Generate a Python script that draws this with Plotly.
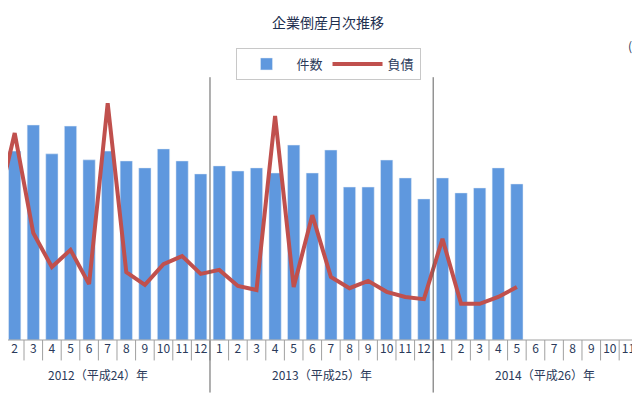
import plotly.graph_objects as go

# 36 monthly slots, Jan 2012 .. Dec 2014 (data through May 2014)
months = [str(m) for m in range(1, 13)] * 3
years = ["2012（平成24）年", "2013（平成25）年", "2014（平成26）年"]

# 件数 (monthly bankruptcies)
counts = [995, 1035, 1178, 1020, 1172, 987, 1035, 981, 943, 1047, 981, 910,
          954, 926, 943, 915, 1068, 915, 1041, 838, 838, 986, 888, 773,
          888, 806, 833, 943, 855]
# 負債 (億円)
debt = [3480, 5670, 2930, 2000, 2470, 1530, 6490, 1860, 1510, 2080, 2300, 1810,
        1920, 1480, 1370, 6140, 1450, 3420, 1730, 1420, 1620, 1320, 1180, 1120,
        2770, 990, 990, 1180, 1450]

x_bar = list(range(len(counts)))
x_line = list(range(len(debt)))

fig = go.Figure()
fig.add_trace(go.Bar(x=x_bar, y=counts, name="件数", marker_color="#5f98de",
                     width=0.66))
fig.add_trace(go.Scatter(x=x_line, y=debt, name="負債", yaxis="y2", mode="lines",
                         line=dict(color="#c0504d", width=4)))

shapes = []
# month tick separators below the axis
for i in range(-1, 36):
    shapes.append(dict(type="line", xref="x", yref="paper", x0=i + 0.5, x1=i + 0.5,
                       y0=0, y1=-0.07, line=dict(color="#a0a0a0", width=1)))
# year separators
for xs in [11.5, 23.5]:
    shapes.append(dict(type="line", xref="x", yref="paper", x0=xs, x1=xs,
                       y0=0.9, y1=-0.18, line=dict(color="#606060", width=1)))
shapes.append(dict(type="line", xref="paper", yref="paper", x0=0, x1=1, y0=0, y1=0,
                   line=dict(color="#a0a0a0", width=1)))

annotations = [dict(x=5.5 + 12 * k, y=-0.155, xref="x", yref="paper", text=t,
                    showarrow=False, font=dict(size=12, color="#2a3a5a"))
               for k, t in enumerate(years)]
annotations.append(dict(x=0.965, y=1.045, xref="paper", yref="paper", text="(億円)",
                        xanchor="left", yanchor="top", showarrow=False,
                        font=dict(size=12, color="#2a3a5a")))

fig.update_layout(
    width=640, height=400,
    margin=dict(l=0, r=0, t=40, b=68),
    paper_bgcolor="white", plot_bgcolor="white",
    font=dict(family="Noto Sans CJK JP", color="#2a3a5a"),
    title=dict(text="企業倒産月次推移", x=0.5, y=0.975, font=dict(size=14, color="#1f3050")),
    xaxis=dict(range=[0.64, 35.05], tickmode="array", tickvals=list(range(36)),
               ticktext=months, tickfont=dict(size=12, color="#2a3a5a"),
               showgrid=False, zeroline=False, ticks="", showline=False),
    yaxis=dict(range=[0, 1600], showticklabels=False, showgrid=False, zeroline=False),
    yaxis2=dict(range=[0, 8000], overlaying="y", side="right", showticklabels=False,
                showgrid=False, zeroline=False),
    legend=dict(orientation="h", x=0.5, xanchor="center", y=1.0, yanchor="top",
                bgcolor="white", bordercolor="#c8c8c8", borderwidth=1,
                itemwidth=50, font=dict(size=13, color="#2a3a5a")),
    shapes=shapes, annotations=annotations,
    bargap=0.3,
)

fig.write_html("out.html")
